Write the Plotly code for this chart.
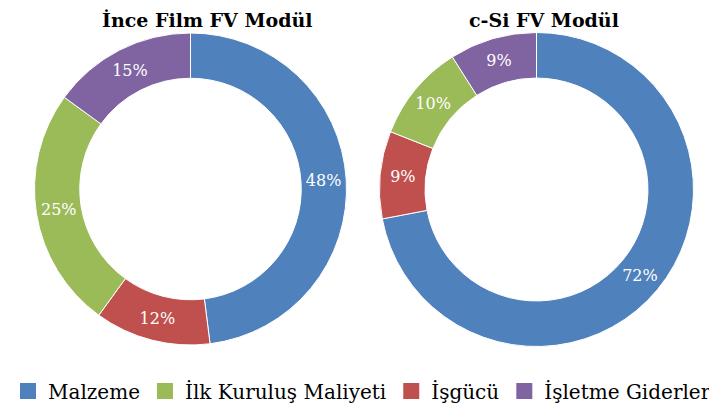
import plotly.graph_objects as go

# slice order clockwise from 12 o'clock
labels = ["Malzeme", "İşgücü", "İlk Kuruluş Maliyeti", "İşletme Giderleri"]
ince_film = [48, 12, 25, 15]
c_si = [72, 9, 10, 9]
colors = ["#4F81BD", "#C0504D", "#9BBB59", "#8064A2"]

titles = ["İnce Film FV Modül", "c-Si FV Modül"]
legend_order = ["Malzeme", "İlk Kuruluş Maliyeti", "İşgücü", "İşletme Giderleri"]

serif = "DejaVu Serif"

fig = go.Figure()

# paper is a bit bigger than the window so the legend stays on one row (cut at the right like the original)
domains = [
    dict(x=[0.03487, 0.44539], y=[0.17805, 0.93902]),
    dict(x=[0.48882, 0.90197], y=[0.17439, 0.94024]),
]
title_x = [199 / 760, 536 / 760]

for vals, dom in zip([ince_film, c_si], domains):
    fig.add_trace(go.Pie(
        labels=labels, values=vals, hole=0.71, sort=False, direction="clockwise",
        rotation=0, domain=dom, showlegend=False,
        marker=dict(colors=colors, line=dict(color="white", width=1)),
        texttemplate="%{percent:.0%}", textposition="inside",
        insidetextorientation="horizontal",
        textfont=dict(family=serif, size=16, color="white"),
        hoverinfo="label+percent",
    ))

# legend entries in the original legend order
color_of = dict(zip(labels, colors))
for name in legend_order:
    fig.add_trace(go.Scatter(
        x=[None], y=[None], mode="markers", name=name,
        marker=dict(symbol="square", size=16, color=color_of[name]),
    ))

for t, tx in zip(titles, title_x):
    fig.add_annotation(
        text="<b>" + t + "</b>", x=tx, y=1.0,
        xref="paper", yref="paper", xanchor="center", yanchor="top", yshift=1,
        showarrow=False, font=dict(family=serif, size=19, color="black"),
    )

fig.update_layout(
    width=760, height=410,
    margin=dict(l=0, r=0, t=0, b=0),
    paper_bgcolor="white", plot_bgcolor="white",
    xaxis=dict(visible=False), yaxis=dict(visible=False),
    showlegend=True,
    legend=dict(
        orientation="h", x=0, y=0.0659, xanchor="left", yanchor="middle",
        font=dict(family=serif, size=20, color="black"),
        tracegroupgap=0,
    ),
)

fig.write_html("out.html")
